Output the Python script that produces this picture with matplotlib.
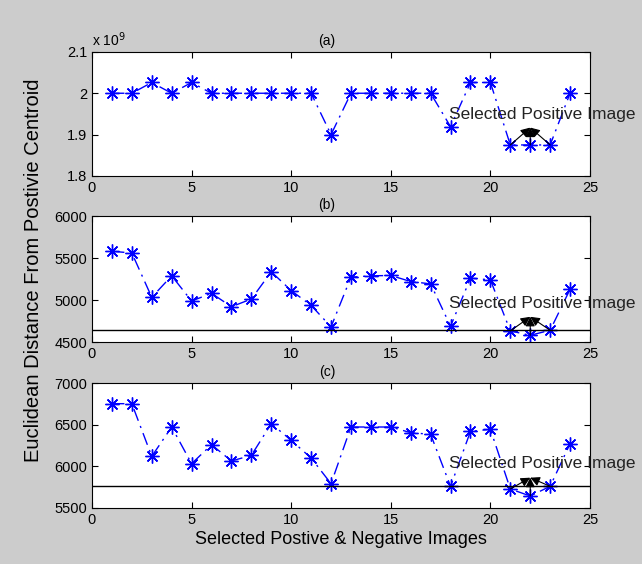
import numpy as np
import matplotlib.pyplot as plt

plt.rcParams['font.family'] = ['Liberation Sans', 'DejaVu Sans']

x_idx = np.arange(1, 25)

# (a) values in units of 1e9
dist_a = [2.000, 2.000, 2.026, 2.000, 2.026, 2.000, 2.000, 2.000, 2.000, 2.000,
          2.000, 1.900, 2.000, 2.000, 2.000, 2.000, 2.000, 1.919, 2.026, 2.026,
          1.875, 1.875, 1.875, 2.000]
dist_b = [5580, 5560, 5032, 5288, 4988, 5080, 4920, 5012, 5336, 5112,
          4936, 4680, 5272, 5288, 5292, 5220, 5192, 4688, 5260, 5240,
          4632, 4580, 4640, 5128]
dist_c = [6752, 6752, 6120, 6472, 6032, 6260, 6064, 6132, 6512, 6312,
          6100, 5792, 6472, 6472, 6472, 6404, 6384, 5760, 6420, 6444,
          5728, 5644, 5760, 6272]

ylims = [(1.8, 2.1), (4500, 6000), (5500, 7000)]
yticks = [[1.8, 1.9, 2.0, 2.1], [4500, 5000, 5500, 6000], [5500, 6000, 6500, 7000]]
ytick_labels = [['1.8', '1.9', '2', '2.1'], ['4500', '5000', '5500', '6000'],
                ['5500', '6000', '6500', '7000']]
thresholds = [None, 4648, 5760]
arrow_tips = [1.917, 4800, 5864]
text_y = [1.948, 4960, 6032]
panel_titles = ['(a)', '(b)', '(c)']
selected = [21, 22, 23]

fig = plt.figure(figsize=(6.42, 5.64), dpi=100, facecolor='#cccccc')
positions = [[0.1433, 0.688, 0.7757, 0.22],
             [0.1433, 0.3936, 0.7757, 0.2234],
             [0.1433, 0.0993, 0.7757, 0.2216]]

for i, data in enumerate([dist_a, dist_b, dist_c]):
    ax = fig.add_axes(positions[i])
    # matlab style '*' marker = 8-arm asterisk
    ax.plot(x_idx, data, color='#0000ff', linestyle=(0, (9, 4, 1.5, 4)), linewidth=1,
            marker=(8, 2, 0), markersize=10, markeredgewidth=1)
    if thresholds[i] is not None:
        ax.axhline(thresholds[i], color='black', linewidth=1)
    for s in selected:
        ax.annotate('', xy=(22, arrow_tips[i]), xytext=(s, data[s - 1]),
                    arrowprops=dict(arrowstyle='-|>', color='black', lw=0.8,
                                    mutation_scale=14, shrinkA=0, shrinkB=0))
    ax.text(17.9, text_y[i], 'Selected Positive Image', fontsize=12.5,
            va='center', ha='left', color='#222222', clip_on=False)
    ax.set_xlim(0, 25)
    ax.set_ylim(*ylims[i])
    ax.set_xticks([0, 5, 10, 15, 20, 25])
    ax.set_yticks(yticks[i])
    ax.set_yticklabels(ytick_labels[i])
    ax.tick_params(direction='in', top=True, right=True, labelsize=10.5, length=4)
    ax.text(11.8, 1.03, panel_titles[i], transform=ax.get_xaxis_transform(),
            ha='center', va='bottom', fontsize=10)
    if i == 0:
        ax.text(0, 1.02, r'x 10$^9$', transform=ax.transAxes, fontsize=10,
                ha='left', va='bottom')
    if i == 2:
        ax.set_xlabel('Selected Postive & Negative Images', fontsize=13, labelpad=3)

fig.text(0.052, 0.52, 'Euclidean Distance From Postivie Centroid', rotation=90,
         ha='center', va='center', fontsize=14.5)

fig.savefig('out.png', dpi=100, facecolor=fig.get_facecolor())
